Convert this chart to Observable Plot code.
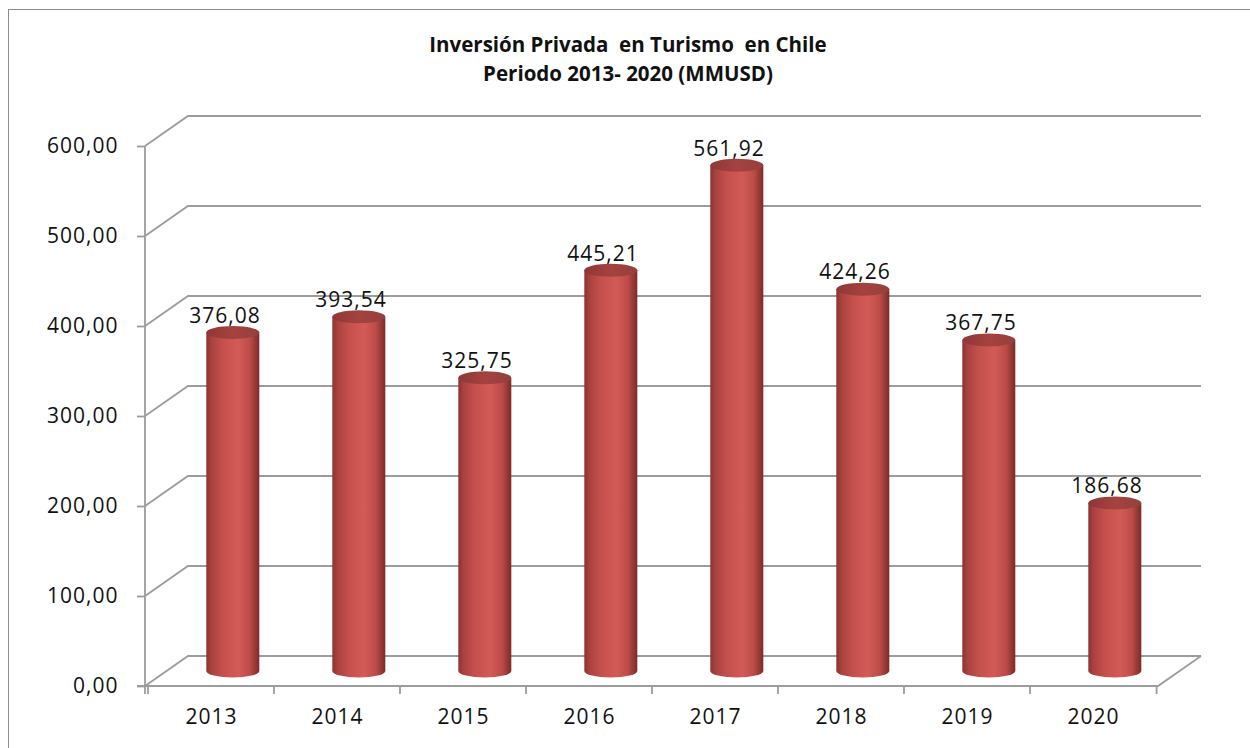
<!DOCTYPE html>
<html>
<head>
<meta charset="utf-8">
<script src="https://cdn.jsdelivr.net/npm/d3@7"></script>
<script src="https://cdn.jsdelivr.net/npm/@observablehq/plot@0.6"></script>
<style>
  html, body { margin: 0; padding: 0; background: #fff; width: 1250px; height: 748px; overflow: hidden; }
  #frame { position: absolute; left: 8px; top: 9px; width: 1300px; height: 800px; border: 1.5px solid #8c8c8c; box-sizing: border-box; }
  #title { position: absolute; left: 0; top: 30px; width: 1256px; text-align: center; font-family: "Open Sans", sans-serif; font-weight: bold; font-size: 20.5px; line-height: 29px; color: #111; }
  #chart { position: absolute; left: 0; top: 100px; }
  #chart svg text { letter-spacing: 1px; }
</style>
</head>
<body>
<div id="frame"></div>
<div id="title">Inversión Privada&nbsp; en Turismo&nbsp; en Chile<br>Periodo 2013- 2020 (MMUSD)</div>
<div id="chart"></div>
<script>
const years = ["2013", "2014", "2015", "2016", "2017", "2018", "2019", "2020"];
const values = [376.08, 393.54, 325.75, 445.21, 561.92, 424.26, 367.75, 186.68];
const yTicks = [0, 100, 200, 300, 400, 500, 600];

const data = years.map((year, i) => ({year, value: values[i]}));
const fmt = d => d.toFixed(2).replace(".", ",");

const DX = 43, DY = -30;        // depth offset of the back wall
const GRID = "#9c9c9c";

function scene(index, scales, vals, dim) {
  const {x, y} = scales;
  const x0 = dim.marginLeft, x1 = dim.width - dim.marginRight;
  const bw = (x1 - x0) / years.length;
  const g = d3.create("svg:g");
  const defs = g.append("defs");
  const bodyGrad = defs.append("linearGradient").attr("id", "cylBody").attr("x1", 0).attr("x2", 1).attr("y1", 0).attr("y2", 0);
  [[0, "#8a3331"], [0.1, "#a9423f"], [0.3, "#c44f4c"], [0.6, "#d35b57"], [0.82, "#bd4b48"], [1, "#7a2c2a"]]
    .forEach(([o, c]) => bodyGrad.append("stop").attr("offset", o).attr("stop-color", c));
  const topGrad = defs.append("linearGradient").attr("id", "cylTop").attr("x1", 0).attr("x2", 1).attr("y1", 0).attr("y2", 0);
  [[0, "#8d3836"], [0.5, "#a5423f"], [1, "#93403d"]]
    .forEach(([o, c]) => topGrad.append("stop").attr("offset", o).attr("stop-color", c));

  const lines = g.append("g").attr("fill", "none").attr("stroke", GRID).attr("stroke-width", 1.8);
  for (const t of yTicks) {
    const yy = y(t);
    lines.append("path").attr("d", `M${x0},${yy}L${x0 + DX},${yy + DY}L${x1 + DX},${yy + DY}`);
  }
  const y0 = y(0);
  lines.append("path").attr("d", `M${x0 - 8},${y0}L${x1},${y0}L${x1 + DX},${y0 + DY}`);
  lines.append("path").attr("d", `M${x0},${y(600)}L${x0},${y0 + 8}`);
  for (let i = 0; i <= years.length; i++) {
    const xx = i < years.length ? x(years[i]) : x(years[years.length - 1]) + bw;
    lines.append("path").attr("d", `M${xx},${y0}L${xx},${y0 + 8}`);
  }

  const r = 26.5, ry = 6.5;
  const cyl = g.append("g");
  data.forEach(d => {
    const cx = x(d.year) + bw / 2 + DX / 2;
    const yb = y(0) + DY / 2, yt = y(d.value) + DY / 2;
    cyl.append("path")
      .attr("d", `M${cx - r},${yt}L${cx - r},${yb}A${r},${ry} 0 0 0 ${cx + r},${yb}L${cx + r},${yt}Z`)
      .attr("fill", "url(#cylBody)");
    cyl.append("ellipse")
      .attr("cx", cx).attr("cy", yt).attr("rx", r).attr("ry", ry)
      .attr("fill", "url(#cylTop)");
  });
  return g.node();
}

const chart = Plot.plot({
  width: 1250,
  height: 648,
  marginLeft: 145,
  marginRight: 92,
  marginTop: 46,
  marginBottom: 62,
  style: {fontFamily: "'Open Sans', sans-serif", fontSize: "21px", color: "#111", background: "transparent", overflow: "visible"},
  x: {type: "band", domain: years, padding: 0},
  y: {domain: [0, 600]},
  marks: [
    scene,
    Plot.axisY(yTicks, {tickSize: 8, tickPadding: 19, tickFormat: fmt, stroke: GRID, strokeWidth: 1.8, fill: "#111", label: null}),
    Plot.axisX({tickSize: 0, tickPadding: 23, fill: "#111", label: null}),
    Plot.text(data, {x: "year", y: "value", text: d => fmt(d.value), dx: 13.5, dy: -32, fill: "#111"})
  ]
});
document.getElementById("chart").appendChild(chart);
</script>
</body>
</html>
